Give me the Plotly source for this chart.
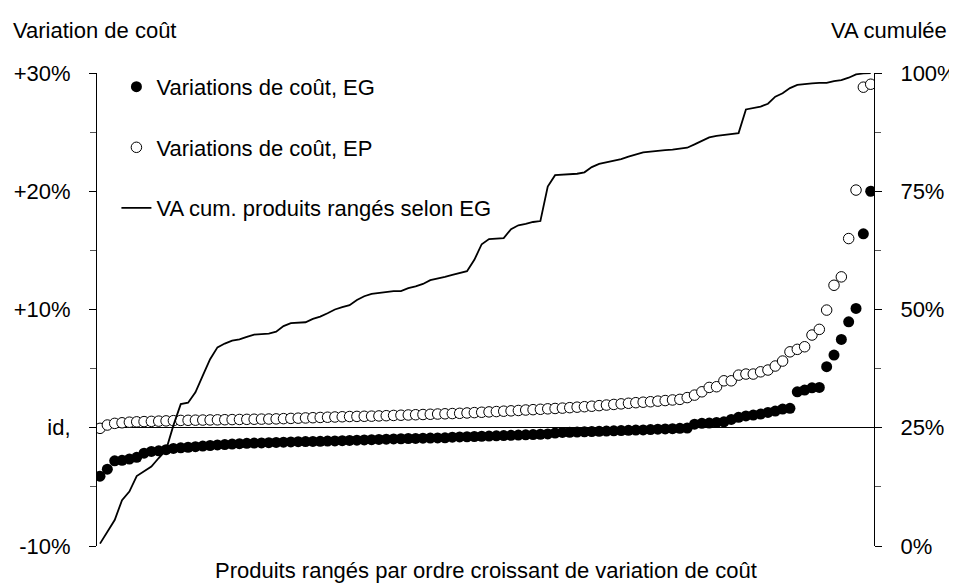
import plotly.graph_objects as go

# Product rank (ranked by EG cost variation)
n_products = 106
rank = list(range(n_products))

# Cost variation, EG (%)
var_eg = [-4.1, -3.5, -2.8, -2.75, -2.65, -2.5, -2.15, -2.0, -1.95, -1.85,
          -1.75, -1.7, -1.65, -1.6, -1.55, -1.5, -1.45, -1.42, -1.38, -1.35,
          -1.32, -1.3, -1.28, -1.26, -1.24, -1.22, -1.2, -1.18, -1.17, -1.16,
          -1.15, -1.13, -1.11, -1.09, -1.07, -1.05, -1.03, -1.01, -0.99, -0.97,
          -0.95, -0.93, -0.91, -0.9, -0.88, -0.87, -0.86, -0.85, -0.8, -0.78,
          -0.76, -0.74, -0.72, -0.7, -0.68, -0.66, -0.64, -0.62, -0.6, -0.58,
          -0.55, -0.52, -0.45, -0.4, -0.38, -0.36, -0.34, -0.32, -0.3, -0.28,
          -0.26, -0.24, -0.22, -0.2, -0.18, -0.15, -0.12, -0.1, -0.08, -0.05,
          -0.02, 0.3, 0.37, 0.4, 0.45, 0.5, 0.7, 0.88, 1.0, 1.07,
          1.16, 1.3, 1.41, 1.58, 1.64, 3.04, 3.19, 3.38, 3.41, 5.16,
          6.15, 7.47, 8.96, 10.09, 16.4, 20.0]

# Cost variation, EP (%)
var_ep = [-0.05, 0.23, 0.37, 0.42, 0.47, 0.5, 0.52, 0.54, 0.56, 0.58,
          0.6, 0.62, 0.63, 0.64, 0.65, 0.66, 0.67, 0.68, 0.69, 0.7,
          0.71, 0.72, 0.73, 0.74, 0.75, 0.77, 0.79, 0.81, 0.83, 0.85,
          0.87, 0.89, 0.91, 0.93, 0.95, 0.96, 0.97, 0.98, 1.0, 1.02,
          1.04, 1.06, 1.08, 1.1, 1.12, 1.14, 1.16, 1.18, 1.2, 1.22,
          1.25, 1.28, 1.31, 1.34, 1.37, 1.4, 1.43, 1.46, 1.5, 1.53,
          1.56, 1.6, 1.63, 1.66, 1.7, 1.74, 1.78, 1.82, 1.87, 1.92,
          1.97, 2.02, 2.07, 2.12, 2.16, 2.2, 2.25, 2.3, 2.35, 2.4,
          2.55, 2.76, 3.04, 3.41, 3.47, 3.97, 3.97, 4.45, 4.54, 4.54,
          4.73, 4.88, 5.22, 5.64, 6.42, 6.63, 6.85, 7.84, 8.32, 9.95,
          12.05, 12.76, 16.0, 20.1, 28.8, 29.05]

# Cumulated value added (%), products ranked by EG
va_cum = [0.5, 3.0, 5.5, 9.7, 11.5, 14.8, 15.8, 16.8, 18.6, 20.3,
          25.5, 30.0, 30.3, 32.5, 36.0, 39.5, 42.0, 42.8, 43.4, 43.7,
          44.2, 44.7, 44.8, 44.9, 45.3, 46.5, 47.1, 47.2, 47.3, 48.0,
          48.5, 49.2, 50.0, 50.5, 50.9, 52.0, 52.8, 53.3, 53.5, 53.8,
          53.9, 53.9, 54.5, 54.9, 55.4, 56.2, 56.5, 56.9, 57.3, 57.7,
          58.1, 60.5, 63.8, 64.9, 65.0, 65.1, 67.0, 67.8, 68.1, 68.5,
          68.7, 76.0, 78.4, 78.5, 78.6, 78.7, 79.0, 80.1, 80.8, 81.1,
          81.4, 81.8, 82.3, 82.8, 83.2, 83.4, 83.6, 83.7, 83.8, 84.0,
          84.2, 84.9, 85.7, 86.4, 86.7, 86.9, 87.1, 87.3, 92.3, 92.6,
          92.9, 93.5, 95.0, 95.7, 96.8, 97.5, 97.7, 97.8, 97.9, 97.9,
          98.3, 98.5, 99.0, 99.7, 99.9, 100.0]

left_tickvals = [-10, 0, 10, 20, 30]
left_ticktext = ["-10%", "id,", "+10%", "+20%", "+30%"]
right_tickvals = [0, 25, 50, 75, 100]
right_ticktext = ["0%", "25%", "50%", "75%", "100%"]

FONT = "Liberation Sans, Arial, sans-serif"
FS = 22
ML, MR, MT, MB = 89, 91, 65, 50
PW = 957 - ML - MR  # plot width in px
PH = 588 - MT - MB  # plot height in px

fig = go.Figure()
fig.add_trace(go.Scatter(
    x=rank, y=var_eg, mode="markers", name="Variations de coût, EG",
    legendgroup="a",
    marker=dict(symbol="circle", size=11, color="black", line=dict(width=0)),
))
fig.add_trace(go.Scatter(
    x=rank, y=var_ep, mode="markers", name="Variations de coût, EP",
    legendgroup="b",
    marker=dict(symbol="circle", size=10.5, color="white",
                line=dict(width=1, color="black")),
))
fig.add_trace(go.Scatter(
    x=rank, y=va_cum, mode="lines", name="VA cum. produits rangés selon EG",
    legendgroup="c", yaxis="y2",
    line=dict(color="black", width=1.8),
))

fig.update_layout(
    width=957, height=588,
    margin=dict(l=ML, r=MR, t=MT, b=MB),
    paper_bgcolor="white", plot_bgcolor="white",
    font=dict(family=FONT, size=FS, color="black"),
    showlegend=True,
    legend=dict(x=0.025, y=1.015, xanchor="left", yanchor="top",
                bgcolor="rgba(0,0,0,0)", tracegroupgap=29,
                font=dict(size=FS), itemwidth=30),
    xaxis=dict(range=[-0.41, 105.45], showline=False, showgrid=False,
               zeroline=False, showticklabels=False, ticks="",
               automargin=False),
    yaxis=dict(range=[-10, 30], tickvals=left_tickvals, ticktext=left_ticktext,
               showline=True, linecolor="black", linewidth=1,
               ticks="outside", ticklen=7, tickcolor="black",
               minor=dict(dtick=5, tick0=0, ticks="outside", ticklen=6,
                          tickcolor="#555555", showgrid=False),
               showgrid=False, zeroline=True, zerolinecolor="black",
               zerolinewidth=1, ticklabelstandoff=14, automargin=False),
    yaxis2=dict(range=[0, 100], overlaying="y", side="right",
                tickvals=right_tickvals, ticktext=right_ticktext,
                showline=True, linecolor="black", linewidth=1,
                ticks="outside", ticklen=7, tickcolor="black",
                minor=dict(dtick=12.5, tick0=0, ticks="outside", ticklen=6,
                           tickcolor="#555555", showgrid=False),
                showgrid=False, zeroline=False, ticklabelstandoff=14,
                automargin=False),
    annotations=[
        dict(text="Variation de coût", xref="paper", yref="paper",
             x=-ML / PW, y=1, xanchor="left", yanchor="middle", yshift=43,
             showarrow=False, xshift=3, font=dict(size=FS)),
        dict(text="VA cumulée", xref="paper", yref="paper",
             x=1 + MR / PW, y=1, xanchor="right", yanchor="middle", yshift=43,
             showarrow=False, xshift=-16, font=dict(size=FS)),
        dict(text="Produits rangés par ordre croissant de variation de coût",
             xref="paper", yref="paper", x=0.5, y=0, xanchor="center",
             yanchor="middle", yshift=-24, showarrow=False,
             font=dict(size=FS)),
    ],
)

fig.write_html("out.html")
